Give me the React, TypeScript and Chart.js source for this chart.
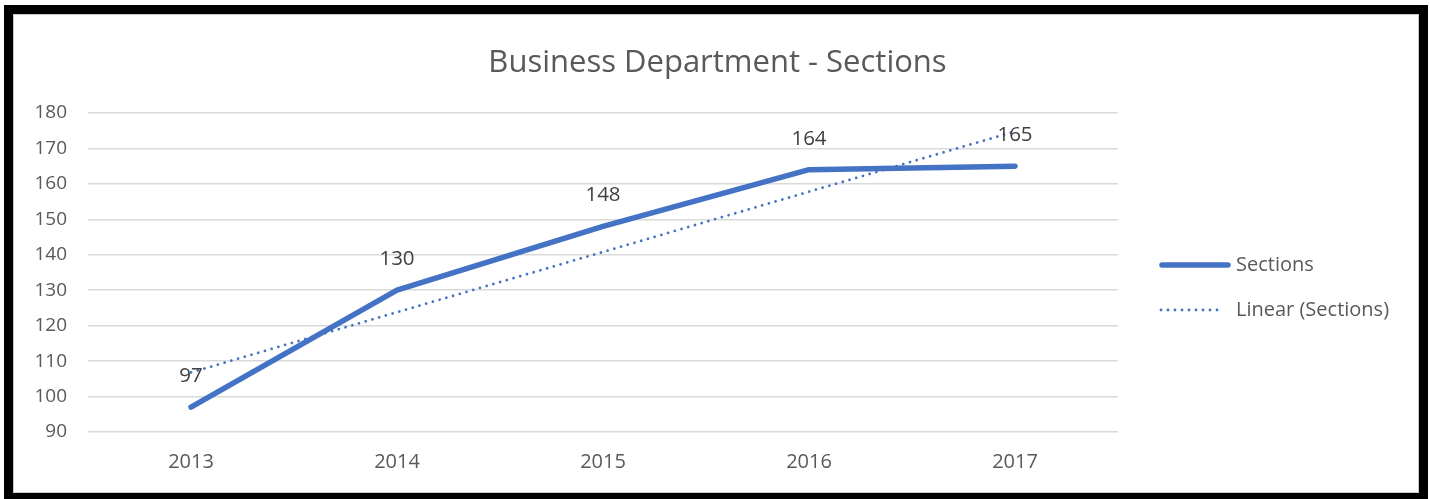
import React, { useEffect, useRef } from "react";
import { Chart, registerables } from "chart.js";

Chart.register(...registerables);

const categories = ["2013", "2014", "2015", "2016", "2017"];
const sections = [97, 130, 148, 164, 165];
const trendSections = [106.8, 123.8, 140.8, 157.8, 174.8];
const yTicks = [90, 100, 110, 120, 130, 140, 150, 160, 170, 180];
const titleText = "Business Department - Sections";
const legendLabels = ["Sections", "Linear (Sections)"];

const BLUE = "#4472C4";
const TEXT = "#595959";
const FONT = "'Open Sans', 'Noto Sans', sans-serif";

const titlePlugin = {
  id: "customTitle",
  afterDraw(chart: any) {
    const ctx = chart.ctx;
    ctx.save();
    ctx.font = `31px ${FONT}`;
    ctx.fillStyle = TEXT;
    ctx.textAlign = "center";
    ctx.textBaseline = "middle";
    ctx.fillText(titleText, chart.width / 2 + 1, 48);
    ctx.restore();
  },
};

const dataLabelPlugin = {
  id: "dataLabels",
  afterDatasetsDraw(chart: any) {
    const ctx = chart.ctx;
    const meta = chart.getDatasetMeta(0);
    ctx.save();
    ctx.font = `20.5px ${FONT}`;
    ctx.fillStyle = "#404040";
    ctx.textAlign = "center";
    ctx.textBaseline = "middle";
    meta.data.forEach((pt: any, i: number) => {
      ctx.fillText(String(sections[i]), pt.x, pt.y - 31);
    });
    ctx.restore();
  },
};

const legendPlugin = {
  id: "customLegend",
  afterDraw(chart: any) {
    const ctx = chart.ctx;
    ctx.save();
    ctx.strokeStyle = BLUE;
    ctx.lineCap = "round";
    ctx.lineWidth = 5.5;
    ctx.beginPath();
    ctx.moveTo(1148, 250);
    ctx.lineTo(1214, 250);
    ctx.stroke();
    ctx.lineWidth = 2.8;
    ctx.setLineDash([0.001, 7]);
    ctx.beginPath();
    ctx.moveTo(1147, 295);
    ctx.lineTo(1209, 295);
    ctx.stroke();
    ctx.setLineDash([]);
    ctx.font = `20px ${FONT}`;
    ctx.fillStyle = TEXT;
    ctx.textAlign = "left";
    ctx.textBaseline = "middle";
    ctx.fillText(legendLabels[0], 1222, 250);
    ctx.fillText(legendLabels[1], 1222, 295);
    ctx.restore();
  },
};

export default function App() {
  const ref = useRef<HTMLCanvasElement | null>(null);

  useEffect(() => {
    if (!ref.current) return;
    const chart = new Chart(ref.current, {
      type: "line",
      data: {
        labels: categories,
        datasets: [
          {
            label: legendLabels[0],
            data: sections,
            borderColor: BLUE,
            backgroundColor: BLUE,
            borderWidth: 5.5,
            borderCapStyle: "round",
            borderJoinStyle: "round",
            pointRadius: 0,
            tension: 0,
            fill: false,
          },
          {
            label: legendLabels[1],
            data: trendSections,
            borderColor: BLUE,
            backgroundColor: BLUE,
            borderWidth: 2.8,
            borderCapStyle: "round",
            borderDash: [0.001, 7],
            pointRadius: 0,
            tension: 0,
            fill: false,
          },
        ],
      },
      options: {
        responsive: false,
        animation: false,
        layout: { padding: { left: 0, right: 301, top: 98, bottom: 0 } },
        plugins: {
          legend: { display: false },
          tooltip: { enabled: false },
          title: { display: false },
        },
        scales: {
          x: {
            type: "category",
            offset: true,
            grid: { display: false, drawTicks: false },
            border: { display: false },
            ticks: { color: TEXT, font: { family: FONT, size: 20 }, padding: 18, maxRotation: 0 },
            afterFit: (s: any) => {
              s.height = 59;
            },
          },
          y: {
            min: 90,
            max: 180,
            afterBuildTicks: (s: any) => {
              s.ticks = yTicks.map((v) => ({ value: v }));
            },
            grid: { color: "#D9D9D9", lineWidth: 1.5, drawTicks: false },
            border: { display: false },
            ticks: { color: TEXT, font: { family: FONT, size: 19 }, padding: 21 },
            afterFit: (s: any) => {
              s.width = 74;
            },
          },
        },
      },
      plugins: [titlePlugin, dataLabelPlugin, legendPlugin],
    });
    return () => chart.destroy();
  }, []);

  return (
    <div style={{ position: "fixed", left: 0, top: 0, width: 1430, height: 499, background: "#fff" }}>
      <div
        style={{
          position: "absolute",
          left: 4,
          top: 5,
          width: 1424,
          height: 494,
          boxSizing: "border-box",
          borderStyle: "solid",
          borderColor: "#000",
          borderWidth: "9px 9px 6px 9px",
        }}
      >
        <div
          style={{
            position: "absolute",
            inset: 0,
            boxSizing: "border-box",
            border: "1px solid #C8C8C8",
            background: "#fff",
          }}
        />
      </div>
      <canvas
        ref={ref}
        width={1405}
        height={476}
        style={{ position: "absolute", left: 14, top: 15, width: 1405, height: 476 }}
      />
    </div>
  );
}
